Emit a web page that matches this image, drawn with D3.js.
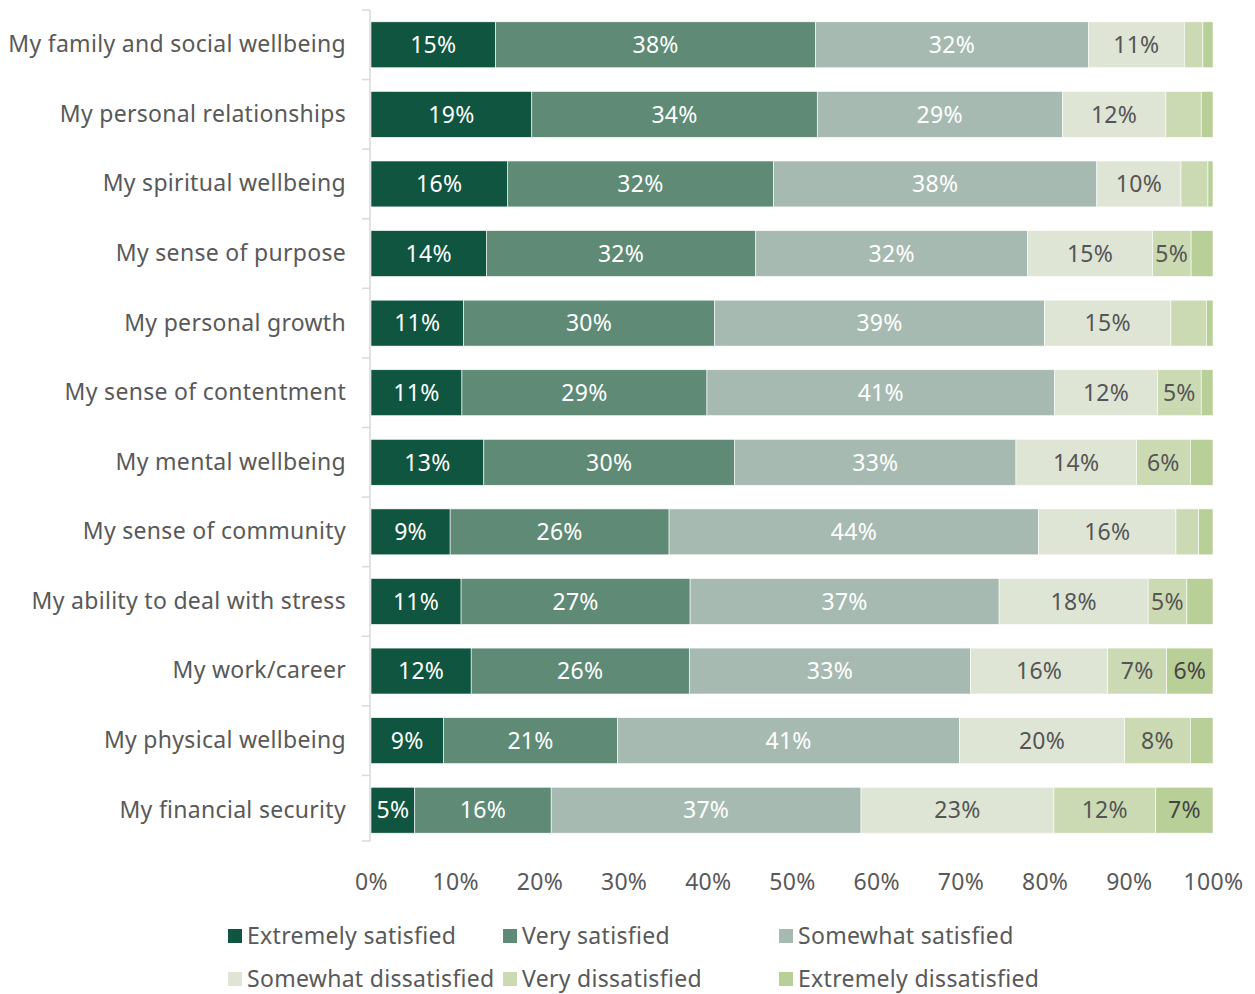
<!DOCTYPE html>
<html>
<head>
<meta charset="utf-8">
<script src="https://cdn.jsdelivr.net/npm/d3@7"></script>
<style>
  html, body { margin: 0; padding: 0; background: #fff; }
  svg { display: block; font-family: "Noto Sans", "Open Sans", sans-serif; letter-spacing: 0.3px; }
</style>
</head>
<body>
<svg id="chart" width="1255" height="994"></svg>
<script>
// Wellbeing satisfaction survey: share of respondents per answer, by area of life
const categories = [
  "My family and social wellbeing",
  "My personal relationships",
  "My spiritual wellbeing",
  "My sense of purpose",
  "My personal growth",
  "My sense of contentment",
  "My mental wellbeing",
  "My sense of community",
  "My ability to deal with stress",
  "My work/career",
  "My physical wellbeing",
  "My financial security"
];

const seriesNames = [
  "Extremely satisfied",
  "Very satisfied",
  "Somewhat satisfied",
  "Somewhat dissatisfied",
  "Very dissatisfied",
  "Extremely dissatisfied"
];

const extremelySatisfied    = [14.8, 19.1, 16.2, 13.7, 11.0, 10.8, 13.4,  9.4, 10.7, 11.9,  8.6,  5.2];
const verySatisfied         = [38.0, 33.9, 31.6, 32.0, 29.8, 29.1, 29.8, 26.0, 27.2, 25.9, 20.7, 16.2];
const somewhatSatisfied     = [32.4, 29.1, 38.4, 32.3, 39.2, 41.3, 33.4, 43.9, 36.7, 33.4, 40.6, 36.8];
const somewhatDissatisfied  = [11.4, 12.3, 10.0, 14.8, 15.0, 12.2, 14.3, 16.3, 17.7, 16.3, 19.6, 22.9];
const veryDissatisfied      = [ 2.2,  4.2,  3.2,  4.6,  4.2,  5.2,  6.4,  2.7,  4.6,  7.0,  7.8, 12.1];
const extremelyDissatisfied = [ 1.2,  1.4,  0.6,  2.6,  0.8,  1.4,  2.7,  1.7,  3.1,  5.5,  2.7,  6.8];

const xTicks = [0, 10, 20, 30, 40, 50, 60, 70, 80, 90, 100];

const colors = ["#0f5540", "#5e8a76", "#a6bab1", "#dfe5d5", "#ccdab4", "#b9cf98"];
const labelColors = ["#ffffff", "#ffffff", "#ffffff", "#555555", "#555555", "#444444"];

const seriesValues = [
  extremelySatisfied, verySatisfied, somewhatSatisfied,
  somewhatDissatisfied, veryDissatisfied, extremelyDissatisfied
];

const rows = categories.map((c, i) => {
  const r = { category: c };
  seriesNames.forEach((s, j) => { r[s] = seriesValues[j][i]; });
  return r;
});

const stacked = d3.stack().keys(seriesNames)(rows);

const svg = d3.select("#chart");
const margin = { left: 371, right: 42, top: 10, bottom: 149 };
const width = 1255, height = 994;

const x = d3.scaleLinear().domain([0, 100]).range([margin.left, width - margin.right]);
const y = d3.scaleBand().domain(categories)
  .range([margin.top, height - margin.bottom])
  .paddingInner(0.34).paddingOuter(0.17);

const textColor = "#595959";
const fontSize = 23;

// bars
const layer = svg.append("g").selectAll("g")
  .data(stacked).join("g")
  .attr("fill", (d, i) => colors[i]);

layer.selectAll("rect")
  .data(d => d.map(p => ({ p, key: d.key })))
  .join("rect")
  .attr("x", d => x(d.p[0]))
  .attr("y", d => y(d.p.data.category))
  .attr("width", d => x(d.p[1]) - x(d.p[0]))
  .attr("height", y.bandwidth())
  .attr("stroke", "#ffffff")
  .attr("stroke-width", 0.6);

// value labels
svg.append("g").selectAll("g")
  .data(stacked).join("g")
  .each(function (s, i) {
    d3.select(this).selectAll("text")
      .data(s.filter(p => Math.round(p[1] - p[0]) >= 5))
      .join("text")
      .attr("x", p => (x(p[0]) + x(p[1])) / 2)
      .attr("y", p => y(p.data.category) + y.bandwidth() / 2)
      .attr("dy", "0.36em")
      .attr("text-anchor", "middle")
      .attr("fill", labelColors[i])
      .attr("font-size", fontSize)
      .text(p => Math.round(p[1] - p[0]) + "%");
  });

// category axis
const yAxis = d3.axisLeft(y).tickSize(0).tickPadding(24);
const yg = svg.append("g").attr("transform", `translate(${margin.left - 1},0)`).call(yAxis)
  .attr("font-family", null).attr("font-size", null);
yg.select(".domain").remove();
yg.selectAll("text").attr("font-size", fontSize).attr("fill", textColor);

// axis line with ticks at band boundaries
const bounds = categories.map(c => y(c) - y.step() * y.paddingInner() / 2);
bounds.push(height - margin.bottom - 4);
const axisG = svg.append("g");
axisG.append("line")
  .attr("x1", margin.left - 1).attr("x2", margin.left - 1)
  .attr("y1", bounds[0]).attr("y2", bounds[bounds.length - 1])
  .attr("stroke", "#d9d9d9").attr("stroke-width", 1.5);
axisG.selectAll("line.tick").data(bounds).join("line")
  .attr("class", "tick")
  .attr("x1", margin.left - 9).attr("x2", margin.left - 1)
  .attr("y1", d => d).attr("y2", d => d)
  .attr("stroke", "#d9d9d9").attr("stroke-width", 1.5);

// value axis
const xAxis = d3.axisBottom(x).tickValues(xTicks).tickSize(0).tickPadding(0)
  .tickFormat(d => d + "%");
const xg = svg.append("g").attr("transform", `translate(0,890)`).call(xAxis)
  .attr("font-family", null).attr("font-size", null);
xg.select(".domain").remove();
xg.selectAll("text").attr("font-size", fontSize).attr("fill", textColor).attr("dy", 0);

// legend
const legendPos = [
  [228, 936], [503, 936], [779, 936],
  [228, 979], [503, 979], [779, 979]
];
const legend = svg.append("g").selectAll("g")
  .data(seriesNames).join("g")
  .attr("transform", (d, i) => `translate(${legendPos[i][0]},${legendPos[i][1]})`);
legend.append("rect")
  .attr("x", 0).attr("y", -7).attr("width", 14).attr("height", 14)
  .attr("fill", (d, i) => colors[i]);
legend.append("text")
  .attr("x", 19).attr("dy", "0.36em")
  .attr("font-size", fontSize).attr("fill", textColor)
  .text(d => d);
</script>
</body>
</html>
